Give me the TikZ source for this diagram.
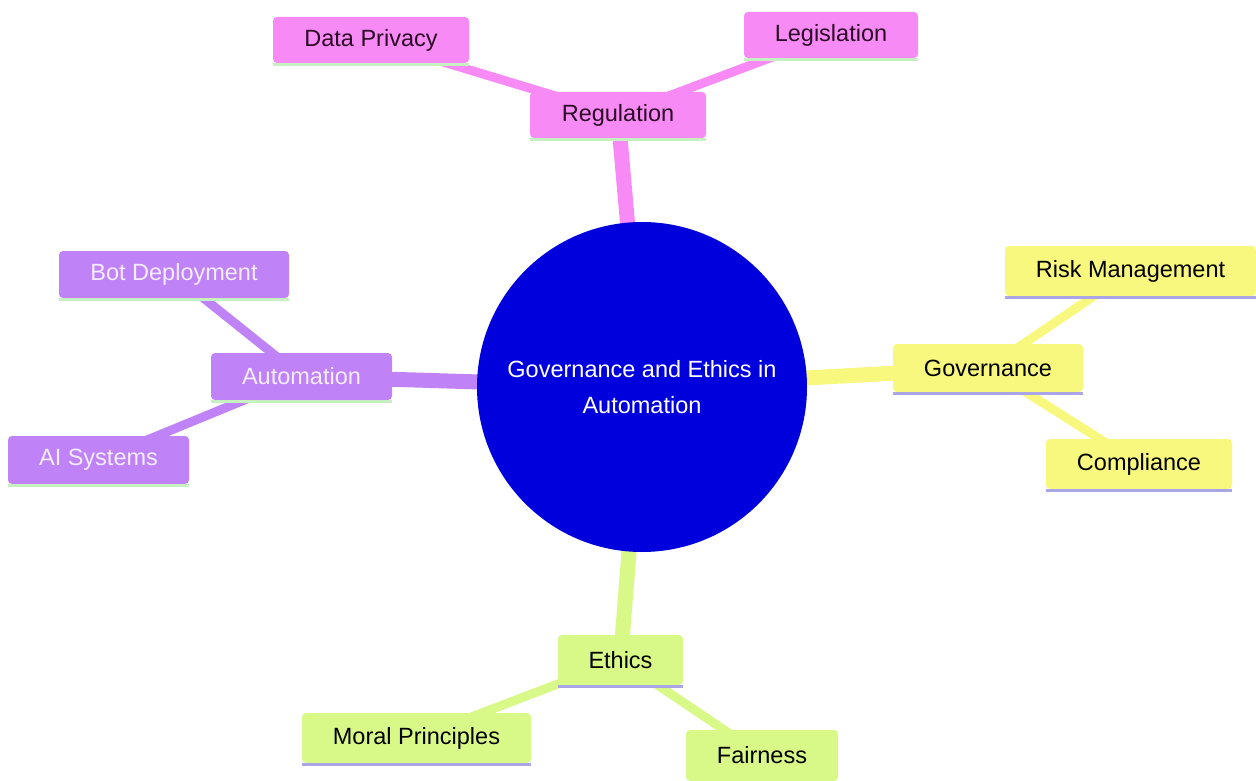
\documentclass[tikz,border=0pt]{standalone}
\usepackage{fontspec}
\setmainfont{Liberation Sans}
\usetikzlibrary{backgrounds}
\definecolor{cpink}{HTML}{F88AF5}
\definecolor{cyellow}{HTML}{F8F87E}
\definecolor{cpurple}{HTML}{C083F7}
\definecolor{clime}{HTML}{D8F988}
\definecolor{cblue}{HTML}{0000DC}
\definecolor{lgreen}{HTML}{C6F0C2}
\definecolor{lav}{HTML}{A9A5E6}
\definecolor{tdark}{HTML}{2A0A25}
\definecolor{tlight}{HTML}{F4ECFF}
\tikzset{
  box/.style={rectangle, rounded corners=4pt, inner sep=0pt, font=\fontsize{23.5}{28}\selectfont},
  mainedge/.style={line width=15pt},
  subedge/.style={line width=9pt},
  uline/.style={line width=3pt},
}
\begin{document}
\begin{tikzpicture}[x=1pt,y=-1pt]
\useasboundingbox (0,0) rectangle (1256,781);
% centre
\node[circle, fill=cblue, minimum size=330pt, inner sep=0pt, text=white, align=center,
      font=\fontsize{23.5}{36}\selectfont] (c) at (642,387) {Governance and Ethics in\\Automation};
% Regulation
\node[box, fill=cpink, text=tdark, minimum width=176pt, minimum height=46pt] (reg) at (618,115) {Regulation};
\node[box, fill=cpink, text=tdark, minimum width=196pt, minimum height=46pt] (dp) at (371,40) {Data Privacy};
\node[box, fill=cpink, text=tdark, minimum width=174pt, minimum height=46pt] (leg) at (831,35) {Legislation};
% Governance
\node[box, fill=cyellow, text=black, minimum width=190pt, minimum height=48pt] (gov) at (988,368) {Governance};
\node[box, fill=cyellow, text=black, minimum width=251pt, minimum height=50pt] (risk) at (1130.5,271) {Risk Management};
\node[box, fill=cyellow, text=black, minimum width=186pt, minimum height=50pt] (comp) at (1139,464) {Compliance};
% Automation
\node[box, fill=cpurple, text=tlight, minimum width=181pt, minimum height=47pt] (aut) at (301.5,376.5) {Automation};
\node[box, fill=cpurple, text=tlight, minimum width=230pt, minimum height=47pt] (bot) at (174,274.5) {Bot Deployment};
\node[box, fill=cpurple, text=tlight, minimum width=181pt, minimum height=48pt] (ai) at (98.5,460) {AI Systems};
% Ethics
\node[box, fill=clime, text=black, minimum width=125pt, minimum height=50pt] (eth) at (620.5,660) {Ethics};
\node[box, fill=clime, text=black, minimum width=229pt, minimum height=50pt] (mor) at (416.5,738) {Moral Principles};
\node[box, fill=clime, text=black, minimum width=152pt, minimum height=51pt] (fair) at (762,755.5) {Fairness};
% underlines
\foreach \n in {reg,dp,leg,aut,bot,ai}
  \draw[uline, lgreen] ([yshift=-1pt]\n.south west) -- ([yshift=-1pt]\n.south east);
\foreach \n in {gov,risk,comp,eth,mor,fair}
  \draw[uline, lav] ([yshift=-1pt]\n.south west) -- ([yshift=-1pt]\n.south east);
\begin{pgfonlayer}{background}
\draw[mainedge, cpink] (c.center) -- (reg.center);
\draw[mainedge, cyellow] (c.center) -- (gov.center);
\draw[mainedge, cpurple] (c.center) -- (aut.center);
\draw[mainedge, clime] (c.center) -- (eth.center);
\draw[subedge, cpink] (reg.center) -- (dp.center);
\draw[subedge, cpink] (reg.center) -- (leg.center);
\draw[subedge, cyellow] (gov.center) -- (risk.center);
\draw[subedge, cyellow] (gov.center) -- (comp.center);
\draw[subedge, cpurple] (aut.center) -- (bot.center);
\draw[subedge, cpurple] (aut.center) -- (ai.center);
\draw[subedge, clime] (eth.center) -- (mor.center);
\draw[subedge, clime] (eth.center) -- (fair.center);
\end{pgfonlayer}
\end{tikzpicture}
\end{document}
